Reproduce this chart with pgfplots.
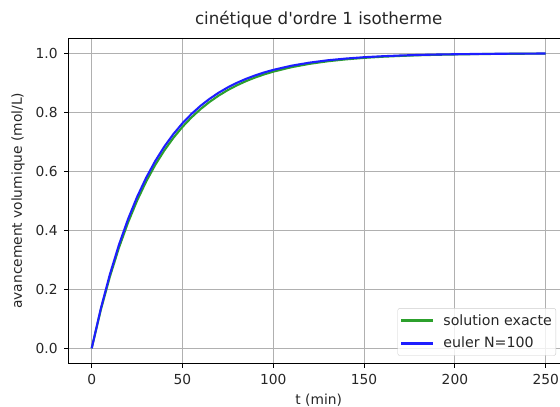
\documentclass[border=0pt]{standalone}
\usepackage{fontspec}
\setmainfont{DejaVu Sans}
\usepackage{pgfplots}
\pgfplotsset{compat=1.18}

\definecolor{mplgreen}{RGB}{44,160,44}
\definecolor{mplblue}{RGB}{30,30,255}
\definecolor{gridgray}{HTML}{B0B0B0}
\definecolor{legedge}{HTML}{CCCCCC}

% solution exacte, t en min
\pgfplotstableread{
t y
0 0
5 0.1297
10 0.2425
15 0.3408
20 0.4262
25 0.5006
30 0.5654
35 0.6218
40 0.6708
45 0.7135
50 0.7507
55 0.7830
60 0.8111
65 0.8356
70 0.8569
75 0.8755
80 0.8916
85 0.9057
90 0.9179
95 0.9286
100 0.9378
110 0.9529
120 0.9643
130 0.9730
140 0.9795
150 0.9845
160 0.9883
170 0.9911
180 0.9933
190 0.9949
200 0.9961
210 0.9971
220 0.9978
230 0.9983
240 0.9987
250 0.9990
}\exacte

% euler N=100
\pgfplotstableread{
t y
0 0
5 0.1341
10 0.2502
15 0.3507
20 0.4377
25 0.5131
30 0.5784
35 0.6349
40 0.6838
45 0.7262
50 0.7629
55 0.7947
60 0.8222
65 0.8461
70 0.8667
75 0.8846
80 0.9000
85 0.9134
90 0.9250
95 0.9351
100 0.9438
110 0.9579
120 0.9684
130 0.9763
140 0.9822
150 0.9867
160 0.9900
170 0.9925
180 0.9944
190 0.9958
200 0.9968
210 0.9976
220 0.9982
230 0.9987
240 0.9990
250 0.9993
}\euler

\begin{document}
\begin{tikzpicture}
\begin{scope}
\clip (0,0) rectangle (560pt,407pt);
\begin{axis}[
    at={(69pt,43.95pt)}, anchor=south west,
    scale only axis,
    width=499.4pt, height=324.5pt,
    xmin=-12.5, xmax=262.5,
    ymin=-0.05, ymax=1.05,
    xtick={0,50,100,150,200,250},
    ytick={0,0.2,0.4,0.6,0.8,1.0},
    grid=major,
    major grid style={gridgray, line width=1.1pt},
    axis line style={black, line width=1pt},
    tick align=outside,
    major tick length=4.9pt,
    tick style={black, line width=1pt},
    xtick pos=bottom, ytick pos=left,
    /pgf/number format/assume math mode=true,
    tick label style={font=\fontsize{13.8}{16}\selectfont, text=black!85},
    yticklabel style={xshift=-3pt, /pgf/number format/.cd, fixed, fixed zerofill, precision=1},
    xticklabel style={yshift=-3pt, /pgf/number format/.cd, fixed},
    scaled ticks=false,
    title={cinétique d\textquotesingle ordre 1 isotherme},
    title style={font=\fontsize{16.7}{20}\selectfont, at={(axis description cs:0.5,1)}, anchor=base, yshift=8pt, text=black!85},
    xlabel={t (min)},
    xlabel style={font=\fontsize{13.8}{16}\selectfont, at={(axis description cs:0.5,-0.129)}, anchor=base, text=black!85},
    ylabel={avancement volumique (mol/L)},
    ylabel style={font=\fontsize{13.8}{16}\selectfont, at={(axis description cs:-0.102,0.5)}, anchor=center, text=black!85},
    legend cell align=left,
    legend style={at={(axis description cs:0.9752,0.0227)}, anchor=south east,
        font=\fontsize{14.2}{16}\selectfont, text=black!85,
        fill=white, fill opacity=0.8, text opacity=1, draw=legedge, draw opacity=1,
        rounded corners=2pt, inner xsep=2pt, inner ysep=4pt,
        row sep=6.5pt, column sep=7pt,
        nodes={inner sep=2pt}},
    legend image code/.code={\draw[#1, line width=2.6pt, draw opacity=1] (0pt,0pt) -- (32pt,0pt);},
]
\addplot[mplgreen, line width=2.1pt] table[x=t, y=y] {\exacte};
\addlegendentry{solution exacte}
\addplot[mplblue, line width=2.1pt] table[x=t, y=y] {\euler};
\addlegendentry{euler N=100}
\end{axis}
\end{scope}
\pgfresetboundingbox
\useasboundingbox (0,0) rectangle (560pt,407pt);
\end{tikzpicture}
\end{document}
